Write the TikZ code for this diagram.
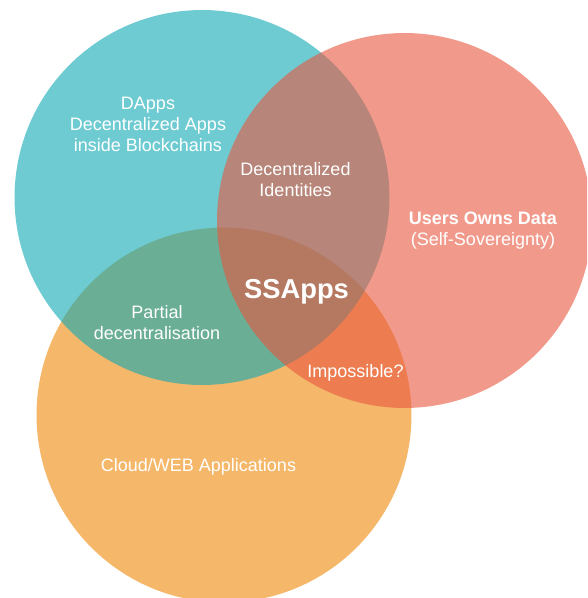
\documentclass[tikz,border=0pt]{standalone}
\usepackage{fontspec}
\setmainfont{Liberation Sans}
\definecolor{dappteal}{RGB}{13,168,180}
\definecolor{userred}{RGB}{232,87,63}
\definecolor{weborange}{RGB}{238,135,7}
\tikzset{
    blob/.style={fill opacity=0.6},
    txt/.style={text=white, align=center, inner sep=0pt,
        font=\fontsize{13.5}{15.75}\selectfont},
    bigtxt/.style={text=white, inner sep=0pt,
        font=\fontsize{20.5}{24}\selectfont\bfseries}
}
\begin{document}
\begin{tikzpicture}[x=0.75pt,y=-0.75pt]
    \useasboundingbox (0,0) rectangle (587,598);
    \clip (0,0) rectangle (587,598);
    \fill[blob,weborange] (224,415) circle (140.6pt);
    \fill[blob,dappteal] (202,197.5) circle (140.6pt);
    \fill[blob,userred] (404.5,220.5) circle (140.6pt);
    \node[txt] (dapps) at (148,124.5) {DApps\\Decentralized Apps\\inside Blockchains};
    \node[txt] (ids) at (295.5,180) {Decentralized\\Identities};
    \node[txt] (owns) at (483,230.5) {\textbf{Users Owns Data}\\(Self-Sovereignty)};
    \node[bigtxt] (ssapps) at (296.5,292) {SSApps};
    \node[txt] (partial) at (157,323) {Partial\\decentralisation};
    \node[txt] (impossible) at (355.5,373) {Impossible?};
    \node[txt] (web) at (198.5,467) {Cloud/WEB Applications};
\end{tikzpicture}
\end{document}
